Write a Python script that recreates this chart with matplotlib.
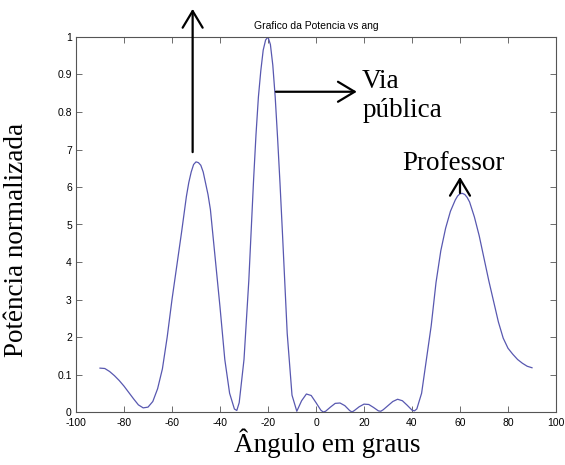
import matplotlib
matplotlib.use('Agg')
import matplotlib.pyplot as plt

plt.rcParams['axes.unicode_minus'] = False

# angle (graus) and normalized power
ang = [-90, -88, -86, -84, -82, -80, -78, -76, -74, -72, -70, -68, -66, -64, -62,
       -60, -58, -56, -54, -53, -52, -51, -50, -49, -48, -47, -46, -45, -44, -42,
       -40, -38, -36, -34, -33, -32, -30, -28, -26, -25, -24, -23, -22, -21, -20,
       -19, -18, -17, -16, -15, -14, -12, -10, -8, -6, -4, -2, 0, 2, 3, 4, 6, 8,
       10, 12, 14, 15, 16, 18, 20, 22, 24, 26, 27, 28, 30, 32, 34, 36, 38, 40,
       41, 42, 44, 46, 48, 50, 52, 54, 56, 58, 59, 60, 61, 62, 63, 64, 66, 68,
       70, 72, 74, 76, 78, 80, 82, 84, 86, 88, 90]
pot = [0.117, 0.116, 0.108, 0.097, 0.084, 0.069, 0.052, 0.035, 0.019, 0.011,
       0.013, 0.028, 0.062, 0.115, 0.20, 0.30, 0.39, 0.48, 0.575, 0.612, 0.64,
       0.66, 0.667, 0.665, 0.658, 0.64, 0.61, 0.58, 0.54, 0.41, 0.28, 0.14,
       0.05, 0.008, 0.004, 0.025, 0.14, 0.35, 0.62, 0.74, 0.84, 0.91, 0.965,
       0.992, 1.0, 0.98, 0.925, 0.84, 0.73, 0.61, 0.48, 0.21, 0.045, 0.002,
       0.03, 0.048, 0.044, 0.025, 0.005, 0.0, 0.002, 0.013, 0.023, 0.024,
       0.017, 0.004, 0.0, 0.004, 0.014, 0.021, 0.020, 0.012, 0.003, 0.002,
       0.006, 0.017, 0.028, 0.034, 0.030, 0.018, 0.005, 0.003, 0.008, 0.05,
       0.14, 0.23, 0.345, 0.43, 0.49, 0.535, 0.565, 0.576, 0.582, 0.583,
       0.58, 0.572, 0.56, 0.52, 0.47, 0.41, 0.35, 0.295, 0.24, 0.197, 0.17,
       0.154, 0.14, 0.13, 0.122, 0.118]

xticks = [-100, -80, -60, -40, -20, 0, 20, 40, 60, 80, 100]
yticks = [0, 0.1, 0.2, 0.3, 0.4, 0.5, 0.6, 0.7, 0.8, 0.9, 1]
ytick_labels = ['0', '0.1', '2', '3', '4', '5', '6', '7', '0.8', '0.9', '1']

serif = ['Liberation Serif', 'DejaVu Serif']
sans = ['Liberation Sans', 'DejaVu Sans']

fig = plt.figure(figsize=(5.65, 4.65), dpi=100)
ax = fig.add_axes([76/565, 53/465, 480/565, 375/465])

ax.plot(ang, pot, color='#5858b0', lw=0.9)
ax.set_xlim(-100, 100)
ax.set_ylim(0, 1)
ax.set_xticks(xticks)
ax.set_yticks(yticks)
ax.set_yticklabels(ytick_labels)
for lab in ax.get_xticklabels() + ax.get_yticklabels():
    lab.set_family(sans)
ax.tick_params(direction='in', length=4, width=0.6, color='#555555',
               labelsize=7.5, top=True, right=True)
ax.tick_params(axis='x', pad=4)
ax.tick_params(axis='y', pad=3)
for s in ax.spines.values():
    s.set_color('#555555')
    s.set_linewidth(0.8)

ax.set_title('Grafico da Potencia vs ang', fontsize=7.5, family=sans, pad=6)

fig.text(327/565, 1 - 452/465, 'Ângulo em graus', fontsize=19.5, family=serif,
         ha='center', va='baseline')
fig.text(17/565, 1 - 240/465, 'Potência normalizada', fontsize=19.5,
         family=serif, rotation=90, ha='center', va='center')

arrow = dict(arrowstyle='->,head_length=0.6,head_width=0.36', color='black',
             lw=1.6, mutation_scale=20, shrinkA=0, shrinkB=0)
ax.annotate('', xy=(-51.4, 1.075), xytext=(-51.4, 0.693),
            arrowprops=arrow, annotation_clip=False)
ax.annotate('', xy=(17, 0.854), xytext=(-16.7, 0.854), arrowprops=arrow)
ax.annotate('', xy=(60, 0.627), xytext=(60, 0.584), arrowprops=arrow)

ax.text(19.2, 0.864, 'Via', fontsize=19.5, family=serif, ha='left', va='baseline')
ax.text(19.2, 0.787, 'pública', fontsize=19.5, family=serif, ha='left', va='baseline')
ax.text(57.3, 0.645, 'Professor', fontsize=19.5, family=serif, ha='center',
        va='baseline')

fig.savefig('out.png', dpi=100)
